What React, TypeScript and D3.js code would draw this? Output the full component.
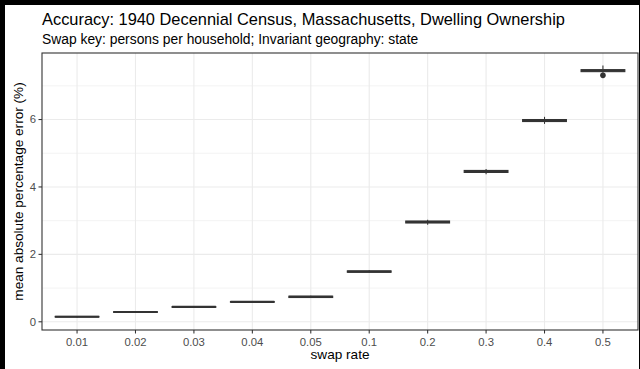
import React from 'react';
import * as d3 from 'd3';

const categories = ["0.01", "0.02", "0.03", "0.04", "0.05", "0.1", "0.2", "0.3", "0.4", "0.5"];
const medians = [0.15, 0.29, 0.44, 0.59, 0.74, 1.49, 2.96, 4.46, 5.97, 7.45];
const q1 = [0.14, 0.28, 0.43, 0.58, 0.72, 1.47, 2.93, 4.43, 5.94, 7.42];
const q3 = [0.16, 0.30, 0.45, 0.60, 0.76, 1.51, 2.99, 4.49, 6.00, 7.48];
const whiskerLo = [0.13, 0.27, 0.42, 0.57, 0.71, 1.45, 2.88, 4.38, 5.87, 7.39];
const whiskerHi = [0.17, 0.31, 0.46, 0.61, 0.77, 1.53, 3.03, 4.53, 6.08, 7.60];
const outliers = [[], [], [], [], [], [], [], [], [], [7.31]];
const yTicks = [0, 2, 4, 6];

const W = 640;
const H = 369;
const FONT = "'Liberation Sans', Arial, Helvetica, sans-serif";

export default function App() {
  const left = 42, right = 638, top = 53, bottom = 330;

  const x = d3.scalePoint<string>().domain(categories).range([left, right]).padding(0.6);
  const boxW = x.step() * 0.75;

  const lo = d3.min(whiskerLo) as number;
  const hi = d3.max(whiskerHi) as number;
  const pad = (hi - lo) * 0.05;
  const y = d3.scaleLinear().domain([lo - pad, hi + pad]).range([bottom, top]);

  const minor = d3.range(1, 8, 2).filter(v => y(v) > top);

  return (
    <svg width={W} height={H} style={{ position: 'absolute', left: 0, top: 0, display: 'block' }} fontFamily={FONT}>
      <rect x={0} y={0} width={W} height={H} fill="#000" />
      <rect x={5} y={5} width={634} height={H - 5} fill="#fff" />

      <text x={left} y={25} fontSize={16.4} fill="#000">
        Accuracy: 1940 Decennial Census, Massachusetts, Dwelling Ownership
      </text>
      <text x={left} y={44} fontSize={13.85} fill="#000">
        Swap key: persons per household; Invariant geography: state
      </text>

      {/* grid */}
      {minor.map(v => (
        <line key={'mn' + v} x1={left} x2={right} y1={y(v)} y2={y(v)} stroke="#EBEBEB" strokeWidth={0.6} />
      ))}
      {yTicks.map(v => (
        <line key={'mj' + v} x1={left} x2={right} y1={y(v)} y2={y(v)} stroke="#EBEBEB" strokeWidth={1.1} />
      ))}
      {categories.map(c => (
        <line key={'vx' + c} x1={x(c)} x2={x(c)} y1={top} y2={bottom} stroke="#EBEBEB" strokeWidth={1.1} />
      ))}

      {/* boxplots */}
      {categories.map((c, i) => {
        const cx = x(c) as number;
        return (
          <g key={'b' + c}>
            <line x1={cx} x2={cx} y1={y(whiskerHi[i])} y2={y(q3[i])} stroke="#333333" strokeWidth={1.07} />
            <line x1={cx} x2={cx} y1={y(q1[i])} y2={y(whiskerLo[i])} stroke="#333333" strokeWidth={1.07} />
            <rect x={cx - boxW / 2} y={y(q3[i])} width={boxW} height={Math.max(0, y(q1[i]) - y(q3[i]))}
              fill="#fff" stroke="#333333" strokeWidth={1.07} />
            <line x1={cx - boxW / 2} x2={cx + boxW / 2} y1={y(medians[i])} y2={y(medians[i])} stroke="#333333" strokeWidth={2.2} />
            {outliers[i].map((o, k) => (
              <circle key={k} cx={cx} cy={y(o)} r={2.8} fill="#333333" />
            ))}
          </g>
        );
      })}

      <rect x={left} y={top} width={right - left} height={bottom - top} fill="none" stroke="#333333" strokeWidth={1.1} />

      {/* y axis */}
      {yTicks.map(v => (
        <g key={'yt' + v}>
          <line x1={left - 3.5} x2={left} y1={y(v)} y2={y(v)} stroke="#333333" strokeWidth={1.07} />
          <text x={left - 6} y={y(v)} dy="0.35em" textAnchor="end" fontSize={11.3} fill="#4D4D4D">{v}</text>
        </g>
      ))}
      {/* x axis */}
      {categories.map(c => (
        <g key={'xt' + c}>
          <line x1={x(c)} x2={x(c)} y1={bottom} y2={bottom + 3.5} stroke="#333333" strokeWidth={1.07} />
          <text x={x(c)} y={bottom + 16} textAnchor="middle" fontSize={11.3} fill="#4D4D4D">{c}</text>
        </g>
      ))}

      <text x={(left + right) / 2} y={359} textAnchor="middle" fontSize={13.6} fill="#000">swap rate</text>
      <text transform={`translate(23,${(top + bottom) / 2}) rotate(-90)`} textAnchor="middle" fontSize={13.6} fill="#000">
        mean absolute percentage error (%)
      </text>
    </svg>
  );
}
